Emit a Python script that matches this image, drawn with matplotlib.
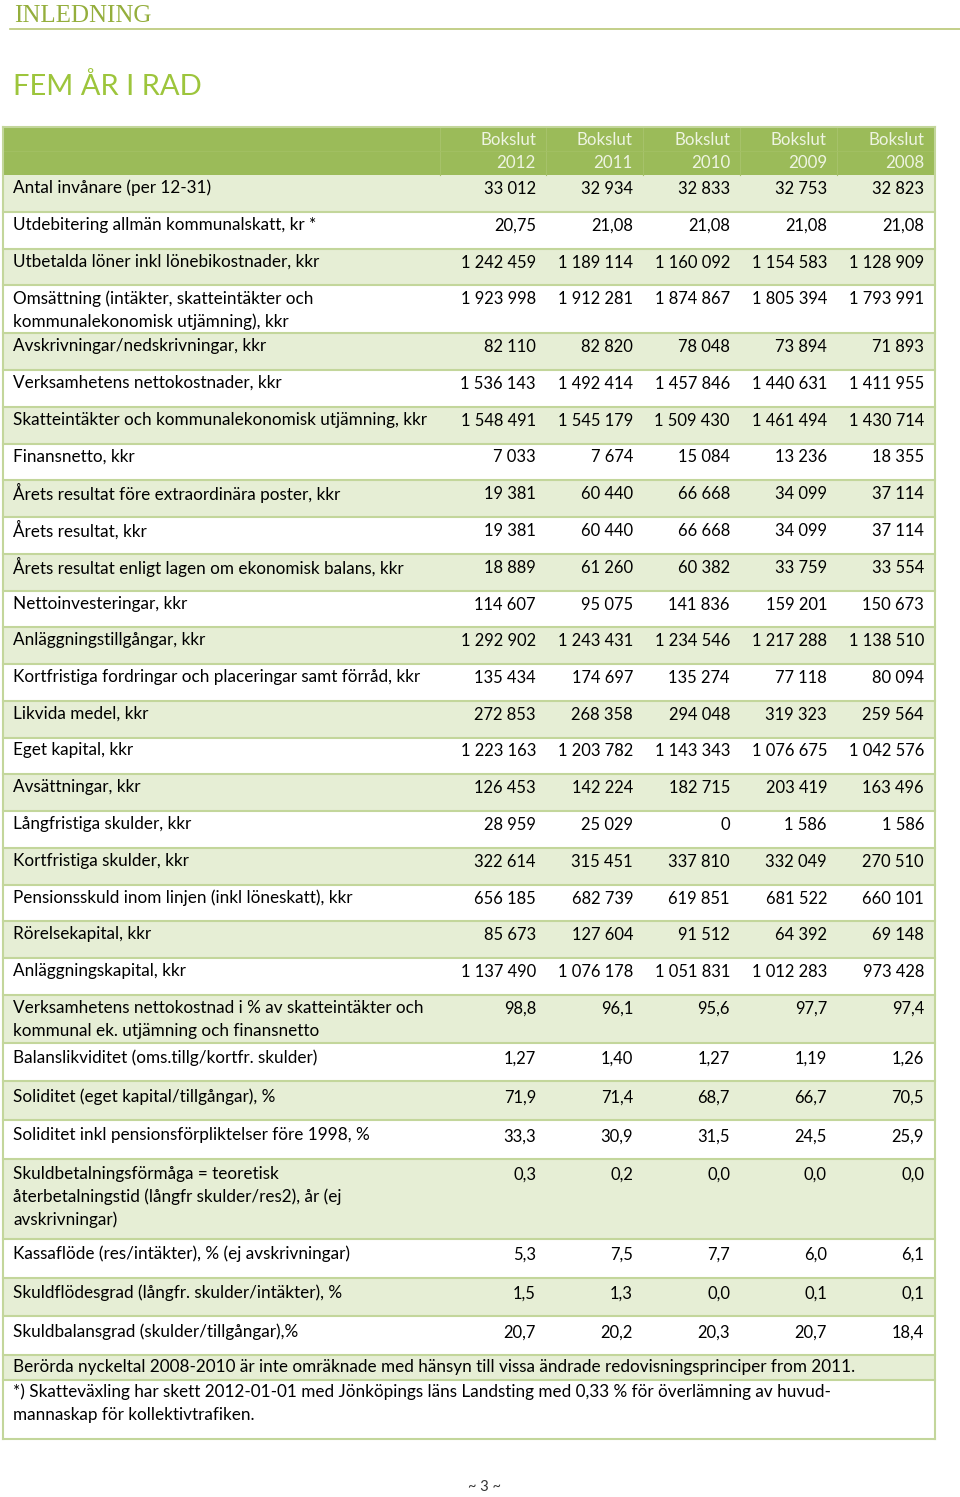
import matplotlib.pyplot as plt
from matplotlib.patches import Rectangle

# data
years = ['2012', '2011', '2010', '2009', '2008']

labels = [
    'Antal invånare (per 12-31)',
    'Utdebitering allmän kommunalskatt, kr *',
    'Utbetalda löner inkl lönebikostnader, kkr',
    'Omsättning (intäkter, skatteintäkter och\nkommunalekonomisk utjämning), kkr',
    'Avskrivningar/nedskrivningar, kkr',
    'Verksamhetens nettokostnader, kkr',
    'Skatteintäkter och kommunalekonomisk utjämning, kkr',
    'Finansnetto, kkr',
    'Årets resultat före extraordinära poster, kkr',
    'Årets resultat, kkr',
    'Årets resultat enligt lagen om ekonomisk balans, kkr',
    'Nettoinvesteringar, kkr',
    'Anläggningstillgångar, kkr',
    'Kortfristiga fordringar och placeringar samt förråd, kkr',
    'Likvida medel, kkr',
    'Eget kapital, kkr',
    'Avsättningar, kkr',
    'Långfristiga skulder, kkr',
    'Kortfristiga skulder, kkr',
    'Pensionsskuld inom linjen (inkl löneskatt), kkr',
    'Rörelsekapital, kkr',
    'Anläggningskapital, kkr',
    'Verksamhetens nettokostnad i % av skatteintäkter och\nkommunal ek. utjämning och finansnetto',
    'Balanslikviditet (oms.tillg/kortfr. skulder)',
    'Soliditet (eget kapital/tillgångar), %',
    'Soliditet inkl pensionsförpliktelser före 1998, %',
    'Skuldbetalningsförmåga = teoretisk\nåterbetalningstid (långfr skulder/res2), år (ej\navskrivningar)',
    'Kassaflöde (res/intäkter), % (ej avskrivningar)',
    'Skuldflödesgrad (långfr. skulder/intäkter), %',
    'Skuldbalansgrad (skulder/tillgångar),%',
]

v2012 = ['33 012', '20,75', '1 242 459', '1 923 998', '82 110', '1 536 143', '1 548 491',
         '7 033', '19 381', '19 381', '18 889', '114 607', '1 292 902', '135 434',
         '272 853', '1 223 163', '126 453', '28 959', '322 614', '656 185', '85 673',
         '1 137 490', '98,8', '1,27', '71,9', '33,3', '0,3', '5,3', '1,5', '20,7']
v2011 = ['32 934', '21,08', '1 189 114', '1 912 281', '82 820', '1 492 414', '1 545 179',
         '7 674', '60 440', '60 440', '61 260', '95 075', '1 243 431', '174 697',
         '268 358', '1 203 782', '142 224', '25 029', '315 451', '682 739', '127 604',
         '1 076 178', '96,1', '1,40', '71,4', '30,9', '0,2', '7,5', '1,3', '20,2']
v2010 = ['32 833', '21,08', '1 160 092', '1 874 867', '78 048', '1 457 846', '1 509 430',
         '15 084', '66 668', '66 668', '60 382', '141 836', '1 234 546', '135 274',
         '294 048', '1 143 343', '182 715', '0', '337 810', '619 851', '91 512',
         '1 051 831', '95,6', '1,27', '68,7', '31,5', '0,0', '7,7', '0,0', '20,3']
v2009 = ['32 753', '21,08', '1 154 583', '1 805 394', '73 894', '1 440 631', '1 461 494',
         '13 236', '34 099', '34 099', '33 759', '159 201', '1 217 288', '77 118',
         '319 323', '1 076 675', '203 419', '1 586', '332 049', '681 522', '64 392',
         '1 012 283', '97,7', '1,19', '66,7', '24,5', '0,0', '6,0', '0,1', '20,7']
v2008 = ['32 823', '21,08', '1 128 909', '1 793 991', '71 893', '1 411 955', '1 430 714',
         '18 355', '37 114', '37 114', '33 554', '150 673', '1 138 510', '80 094',
         '259 564', '1 042 576', '163 496', '1 586', '270 510', '660 101', '69 148',
         '973 428', '97,4', '1,26', '70,5', '25,9', '0,0', '6,1', '0,1', '18,4']

notes = [
    'Berörda nyckeltal 2008-2010 är inte omräknade med hänsyn till vissa ändrade redovisningsprinciper from 2011.',
    '*) Skatteväxling har skett 2012-01-01 med Jönköpings läns Landsting med 0,33 % för överlämning av huvud-\nmannaskap för kollektivtrafiken.',
]

columns = [v2012, v2011, v2010, v2009, v2008]

# layout / style
W, H = 960, 1497
FONT = 'Lato'
FS_LAB = 12.3
FS_NUM = 11.9
HEAD_BG = '#9BBB59'
LIGHT_BG = '#E6EED5'
BORDER = '#C3D69B'
LEFT, RIGHT = 3, 935
col_right = [536, 633, 730, 827, 924]
LINE = 23

fig = plt.figure(figsize=(W / 100, H / 100), dpi=100)
ax = fig.add_axes([0, 0, 1, 1])
ax.set_xlim(0, W)
ax.set_ylim(H, 0)
ax.axis('off')

# page heading
ax.text(14, 22, 'INLEDNING', family='Liberation Serif', fontsize=18, color='#94AE3C',
        va='baseline', ha='left')
ax.plot([10, 960], [29, 29], color='#B9C776', lw=1.2)
ax.text(13, 95, 'FEM ÅR I RAD', family=FONT, fontsize=21, color='#9DC53C',
        va='baseline', ha='left')

# header row
head_top, head_bot = 127, 175
ax.add_patch(Rectangle((LEFT, head_top), RIGHT - LEFT, head_bot - head_top,
                       facecolor=HEAD_BG, edgecolor='none'))
for x in [440, 546, 643, 740, 837]:
    ax.plot([x, x], [head_top, head_bot], color='#A6C26A', lw=0.8)
ax.plot([LEFT, RIGHT], [151, 151], color='#A3C064', lw=0.6)
for xr, yr in zip(col_right, years):
    ax.text(xr, 140, 'Bokslut', family=FONT, fontsize=12.2, color='#EEF4E2', ha='right', va='center')
    ax.text(xr, 163, yr, family=FONT, fontsize=12.2, color='#EEF4E2', ha='right', va='center')

# body rows
y = head_bot
for i, lab in enumerate(labels):
    nlines = lab.count('\n') + 1
    lower = i >= 23
    if nlines == 1:
        h = 38.7 if lower else 36.75
    elif nlines == 2:
        h = 48
    else:
        h = 80
    off = 15 if lower else 13
    if i % 2 == 0:
        ax.add_patch(Rectangle((LEFT, y), RIGHT - LEFT, h, facecolor=LIGHT_BG, edgecolor='none'))
    for k, part in enumerate(lab.split('\n')):
        ax.text(13, y + off + k * LINE, part, family=FONT, fontsize=FS_LAB, color='black',
                ha='left', va='center')
    for xr, col in zip(col_right, columns):
        ax.text(xr, y + off + 1, col[i], family=FONT, fontsize=FS_NUM, color='black',
                ha='right', va='center')
    y += h
    ax.plot([LEFT, RIGHT], [y, y], color=BORDER, lw=1.5)

# notes
for j, note in enumerate(notes):
    nlines = note.count('\n') + 1
    h = 25 if nlines == 1 else 59
    if j % 2 == 0:
        ax.add_patch(Rectangle((LEFT, y), RIGHT - LEFT, h, facecolor=LIGHT_BG, edgecolor='none'))
    for k, part in enumerate(note.split('\n')):
        ax.text(13, y + 12 + k * LINE, part, family=FONT, fontsize=FS_LAB, color='black',
                ha='left', va='center')
    y += h
    ax.plot([LEFT, RIGHT], [y, y], color=BORDER, lw=1.5)

ax.plot([LEFT, LEFT], [head_top, y], color=BORDER, lw=1.5)
ax.plot([RIGHT, RIGHT], [head_top, y], color=BORDER, lw=1.5)
ax.plot([LEFT, RIGHT], [head_top, head_top], color=BORDER, lw=1.5)

ax.text(485, 1487, '~ 3 ~', family=FONT, fontsize=10.5, color='#333333', ha='center', va='center')

fig.savefig('out.png', dpi=100)
